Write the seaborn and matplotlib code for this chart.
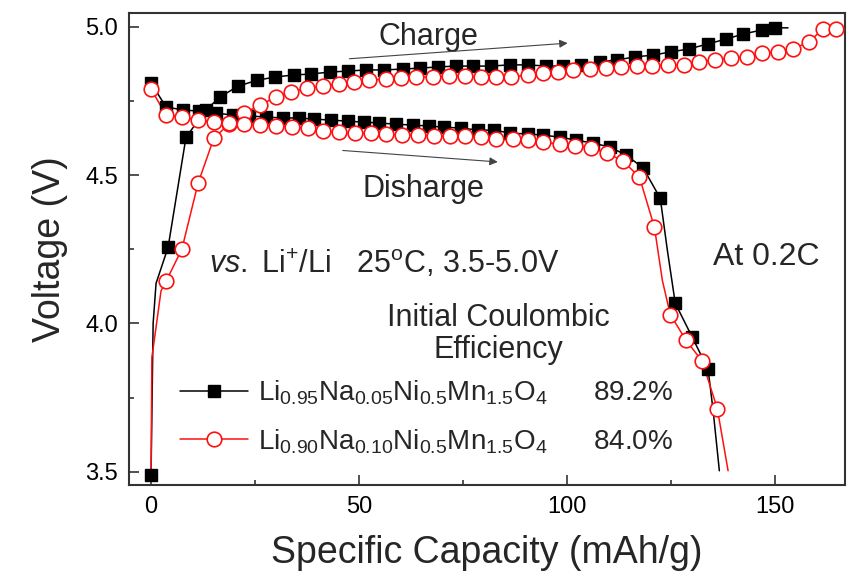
import numpy as np
import pandas as pd
import matplotlib
matplotlib.use('Agg')
import matplotlib.pyplot as plt
from matplotlib.lines import Line2D
from matplotlib.ticker import MultipleLocator
import seaborn as sns

# Data (capacity in mAh/g, voltage in V)
# Li0.95Na0.05Ni0.5Mn1.5O4 (black squares)
na05_chg_cap = [0, 4.1, 8.4, 13.2, 16.6, 20.9, 25.4, 29.8, 34.3, 38.4, 43.0, 47.3, 51.6, 55.9,
                60.5, 64.6, 68.9, 73.2, 77.5, 81.6, 86.2, 90.5, 95.0, 99.1, 103.4, 107.8, 112.1,
                116.4, 120.7, 125.0, 129.4, 133.9, 138.2, 142.3, 146.9, 150.0]
na05_chg_v = [3.49, 4.257, 4.628, 4.72, 4.764, 4.80, 4.82, 4.831, 4.838, 4.841, 4.848, 4.851, 4.855,
              4.855, 4.858, 4.861, 4.865, 4.868, 4.868, 4.868, 4.872, 4.872, 4.868, 4.868, 4.872,
              4.882, 4.889, 4.899, 4.905, 4.916, 4.926, 4.943, 4.959, 4.976, 4.99, 4.997]
na05_chg_extra_cap = [0.5, 1.2, 153.1]
na05_chg_extra_v = [4.00, 4.135, 4.997]

na05_dis_cap = [0, 3.6, 7.7, 11.5, 15.6, 19.7, 23.5, 27.6, 31.7, 35.5, 39.1, 43.2, 47.3, 51.1, 54.7,
                58.8, 62.9, 66.7, 70.3, 74.4, 78.7, 82.5, 86.2, 90.5, 94.3, 98.4, 102.2, 106.3, 110.2,
                114.2, 118.3, 122.4, 126.0, 130.1, 133.9]
na05_dis_v = [4.811, 4.73, 4.72, 4.716, 4.709, 4.703, 4.70, 4.696, 4.693, 4.693, 4.689, 4.686, 4.682,
              4.679, 4.676, 4.672, 4.669, 4.666, 4.662, 4.659, 4.652, 4.652, 4.642, 4.639, 4.635,
              4.628, 4.618, 4.608, 4.595, 4.568, 4.524, 4.422, 4.068, 3.953, 3.845]
na05_dis_extra_cap = [124.1, 135.1, 136.6]
na05_dis_extra_v = [4.247, 3.706, 3.503]

# Li0.90Na0.10Ni0.5Mn1.5O4 (red open circles)
na10_chg_cap = [3.6, 7.4, 11.3, 15.1, 18.7, 22.3, 26.2, 30.0, 33.6, 37.4, 41.3, 45.1, 48.7, 52.3, 56.4,
                60.0, 63.8, 67.7, 71.5, 75.4, 79.2, 83.0, 86.6, 90.5, 94.1, 97.9, 101.5, 105.4, 109.4,
                113.0, 116.9, 120.5, 124.3, 128.2, 131.8, 135.6, 139.4, 143.3, 146.9, 150.7, 154.3,
                158.1, 161.5, 164.6]
na10_chg_v = [4.142, 4.25, 4.473, 4.625, 4.672, 4.709, 4.736, 4.764, 4.78, 4.794, 4.80, 4.807, 4.814,
              4.821, 4.824, 4.828, 4.831, 4.831, 4.834, 4.834, 4.831, 4.831, 4.831, 4.838, 4.845,
              4.848, 4.855, 4.858, 4.861, 4.865, 4.868, 4.868, 4.872, 4.872, 4.882, 4.889, 4.895,
              4.899, 4.912, 4.916, 4.926, 4.949, 4.993, 4.993]
na10_chg_extra_cap = [0, 0.2, 2.4]
na10_chg_extra_v = [3.49, 3.885, 4.11]

na10_dis_cap = [0, 3.6, 7.4, 11.3, 15.1, 18.7, 22.3, 26.2, 30.0, 33.8, 37.7, 41.3, 45.1, 49.0, 52.8,
                56.4, 60.2, 64.1, 67.9, 71.8, 75.4, 79.2, 83.0, 86.9, 90.7, 94.3, 98.2, 102.0, 105.8,
                109.7, 113.5, 117.4, 121.0, 124.8, 128.6, 132.5, 136.1]
na10_dis_v = [4.79, 4.703, 4.696, 4.686, 4.679, 4.676, 4.672, 4.669, 4.666, 4.662, 4.659, 4.649, 4.645,
              4.642, 4.642, 4.639, 4.635, 4.635, 4.632, 4.632, 4.632, 4.628, 4.622, 4.622, 4.618,
              4.611, 4.605, 4.598, 4.591, 4.574, 4.547, 4.493, 4.324, 4.03, 3.943, 3.872, 3.713]
na10_dis_extra_cap = [122.9, 138.7]
na10_dis_extra_v = [4.145, 3.503]

labels = [r'Li$_{0.95}$Na$_{0.05}$Ni$_{0.5}$Mn$_{1.5}$O$_{4}$      89.2%',
          r'Li$_{0.90}$Na$_{0.10}$Ni$_{0.5}$Mn$_{1.5}$O$_{4}$      84.0%']

sns.set_theme(style='ticks')
plt.rcParams['font.family'] = ['Liberation Sans', 'DejaVu Sans']
plt.rcParams['mathtext.fontset'] = 'custom'
plt.rcParams['mathtext.rm'] = 'Liberation Sans'
plt.rcParams['mathtext.it'] = 'Liberation Sans:italic'

fig = plt.figure(figsize=(8.5, 5.71), dpi=100)
ax = fig.add_axes([129 / 850, 1 - 485 / 571, (845 - 129) / 850, (485 - 13) / 571])

black = '#000000'
red = '#ff1010'

curves = [
    (na05_chg_cap, na05_chg_v, na05_chg_extra_cap, na05_chg_extra_v, black, 's'),
    (na05_dis_cap, na05_dis_v, na05_dis_extra_cap, na05_dis_extra_v, black, 's'),
    (na10_chg_cap, na10_chg_v, na10_chg_extra_cap, na10_chg_extra_v, red, 'o'),
    (na10_dis_cap, na10_dis_v, na10_dis_extra_cap, na10_dis_extra_v, red, 'o'),
]

for cap, v, xcap, xv, col, mk in curves:
    line_df = pd.DataFrame({'cap': cap + xcap, 'v': v + xv}).sort_values('cap')
    sns.lineplot(data=line_df, x='cap', y='v', color=col, lw=1.1, sort=False,
                 estimator=None, ax=ax)
    if mk == 's':
        ax.plot(cap, v, ls='none', marker='s', ms=8.5, color=col, zorder=3)
    else:
        ax.plot(cap, v, ls='none', marker='o', ms=10.5, mfc='white', mec=col, mew=1.2, zorder=3)

ax.set_xlim(-5.3, 166.8)
ax.set_ylim(3.455, 5.047)
ax.xaxis.set_major_locator(MultipleLocator(50))
ax.xaxis.set_minor_locator(MultipleLocator(25))
ax.yaxis.set_major_locator(MultipleLocator(0.5))
ax.yaxis.set_minor_locator(MultipleLocator(0.25))
ax.yaxis.set_major_formatter(matplotlib.ticker.FormatStrFormatter('%.1f'))
ax.tick_params(which='both', direction='in', top=False, right=False, colors='#333333',
               labelcolor='black', labelsize=17, width=1.2)
ax.tick_params(which='major', length=7, pad=8)
ax.tick_params(which='minor', length=3.5)
for s in ax.spines.values():
    s.set_linewidth(1.5)
    s.set_color('#333333')

ax.set_xlabel('Specific Capacity (mAh/g)', fontsize=27, labelpad=12)
ax.set_ylabel('Voltage (V)', fontsize=27, labelpad=12)

# annotations
ax.text(66.7, 4.939, 'Charge', fontsize=22, ha='center', va='baseline')
ax.annotate('', xy=(100.8, 4.946), xytext=(47.0, 4.892),
            arrowprops=dict(arrowstyle='-|>', color='#444444', lw=0.8, mutation_scale=12))
ax.text(65.5, 4.426, 'Disharge', fontsize=22, ha='center', va='baseline')
ax.annotate('', xy=(84.0, 4.544), xytext=(45.4, 4.584),
            arrowprops=dict(arrowstyle='-|>', color='#444444', lw=0.8, mutation_scale=12))
ax.text(13.9, 4.169, r'$\it{vs.}$ Li$^{+}$/Li   25$^{\rm o}$C, 3.5-5.0V', fontsize=22,
        ha='left', va='baseline')
ax.text(135.1, 4.196, 'At 0.2C', fontsize=23, ha='left', va='baseline')
ax.text(83.6, 3.882, 'Initial Coulombic\nEfficiency', fontsize=22, ha='center',
        va='baseline', multialignment='center', linespacing=1.1)

handles = [Line2D([], [], color=black, lw=1.1, marker='s', ms=8.5),
           Line2D([], [], color=red, lw=1.1, marker='o', ms=10.5, mfc='white', mec=red, mew=1.2)]
ax.legend(handles, labels, loc='upper left', bbox_to_anchor=((180 - 129) / 716, 0.226),
          frameon=False, fontsize=20, handlelength=2.45, handletextpad=0.35,
          borderpad=0, borderaxespad=0, labelspacing=0.73)

fig.savefig('out.png', dpi=100)
